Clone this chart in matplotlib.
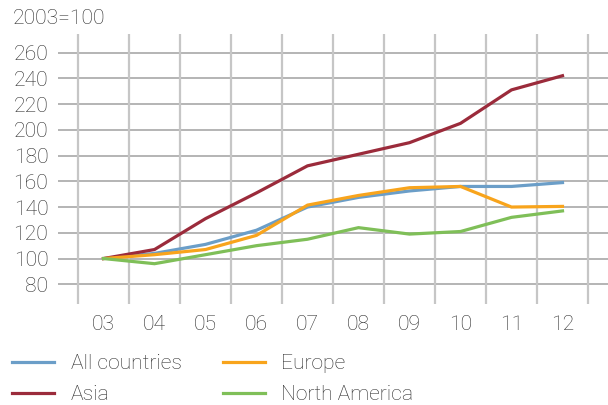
import matplotlib
matplotlib.use("Agg")
import matplotlib.pyplot as plt
from matplotlib.lines import Line2D

years = ["03", "04", "05", "06", "07", "08", "09", "10", "11", "12"]
all_countries = [100, 104, 111, 122, 140, 147.5, 152.5, 156, 156, 159]
asia = [100, 107, 131, 151, 172, 181, 190, 205, 231, 242]
europe = [100, 103, 107, 118, 141.5, 149, 155, 156, 140, 140.5]
north_america = [100, 96, 103, 110, 115, 124, 119, 121, 132, 137]
y_ticks = [80, 100, 120, 140, 160, 180, 200, 220, 240, 260]

series = [
    ("All countries", all_countries, "#6b9ec8"),
    ("Asia", asia, "#9b2b3b"),
    ("Europe", europe, "#f8a41c"),
    ("North America", north_america, "#7fbf58"),
]

plt.rcParams["font.family"] = ["Roboto", "DejaVu Sans"]
plt.rcParams["font.weight"] = "light"
text_color = "#2e2e2e"
fs = 15.2

W, H = 608, 405
fig = plt.figure(figsize=(W / 100, H / 100), dpi=100)
ax = fig.add_axes([58 / W, 101 / H, 550 / W, 270 / H])

n = len(years)
x = list(range(n))
xl = -0.5 - 20 / 51
xr = n - 0.5 + 20 / 51
ax.set_xlim(xl, xr)
ax.set_ylim(64.7, 274.4)

for v in y_ticks:
    ax.axhline(v, color="#a0a0a0", lw=1.1, zorder=1)
for b in range(n + 1):
    ax.axvline(b - 0.5, color="#c6c6c6", lw=1.6, zorder=1)

for name, vals, col in series:
    ax.plot(x, vals, color=col, lw=2.3, label=name, zorder=3,
            solid_joinstyle="miter")

for s in ax.spines.values():
    s.set_visible(False)
ax.set_xticks(x)
ax.set_xticklabels(years)
ax.set_yticks(y_ticks)
ax.tick_params(axis="both", length=0, labelsize=fs, colors=text_color)
ax.tick_params(axis="x", pad=8)
ax.tick_params(axis="y", pad=7)

fig.text(13 / W, 1 - 18 / H, "2003=100", fontsize=fs, color=text_color,
         va="center", ha="left")

handles = [Line2D([0], [0], color=c, lw=2.3) for _, _, c in series]
labels = [n_ for n_, _, _ in series]
leg = fig.legend(handles, labels, ncol=2, loc="upper left",
                 bbox_to_anchor=(12 / W, 1 - 354 / H),
                 frameon=False, fontsize=fs, handlelength=2.0,
                 handletextpad=0.78, columnspacing=1.95, labelspacing=0.57,
                 borderpad=0, borderaxespad=0)
for t in leg.get_texts():
    t.set_color(text_color)

fig.savefig("out.png", dpi=100)
